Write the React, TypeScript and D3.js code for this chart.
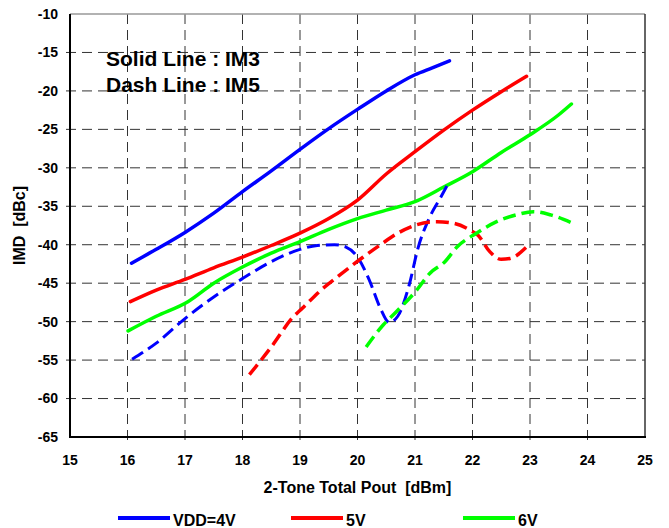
import React from "react";
import * as d3 from "d3";

const xTicks = [15, 16, 17, 18, 19, 20, 21, 22, 23, 24, 25];
const yTicks = [-10, -15, -20, -25, -30, -35, -40, -45, -50, -55, -60, -65];

type P = [number, number];

const im3_4V: P[] = [[16.07,-42.4],[16.5,-40.6],[17,-38.4],[17.5,-35.9],[18,-33.1],[18.5,-30.4],[19,-27.6],[19.5,-24.9],[20,-22.4],[20.5,-20.0],[21,-17.9],[21.3,-17.0],[21.6,-16.1]];
const im3_5V: P[] = [[16.05,-47.4],[16.5,-45.9],[17,-44.5],[17.5,-43.0],[18,-41.6],[18.5,-40.1],[19,-38.5],[19.5,-36.6],[20,-34.2],[20.5,-30.8],[21,-27.9],[21.5,-25.1],[22,-22.5],[22.5,-20.1],[22.94,-18.1]];
const im3_6V: P[] = [[16.01,-51.2],[16.5,-49.3],[17.05,-47.4],[17.5,-45.0],[18,-42.9],[18.5,-41.1],[19,-39.6],[19.5,-38.0],[20,-36.6],[20.5,-35.5],[21,-34.4],[21.5,-32.5],[22,-30.5],[22.5,-28.0],[23,-25.7],[23.5,-23.1],[23.72,-21.7]];
const im5_4V: P[] = [[16.08,-54.9],[16.5,-52.8],[17,-49.6],[17.5,-46.8],[18,-44.4],[18.5,-42.2],[19,-40.6],[19.3,-40.1],[19.6,-40.0],[19.8,-40.3],[20.0,-41.6],[20.2,-44.5],[20.4,-48.3],[20.55,-50.1],[20.7,-49.3],[20.9,-45.2],[21.05,-40.5],[21.25,-36.5],[21.45,-33.8],[21.58,-32.0]];
const im5_5V: P[] = [[18.12,-56.9],[18.5,-53.3],[18.88,-49.4],[19.05,-48.2],[19.35,-46.0],[19.7,-43.9],[20.1,-41.6],[20.4,-40.0],[20.7,-38.5],[21.03,-37.4],[21.38,-37.0],[21.67,-37.2],[21.96,-38.1],[22.1,-38.8],[22.3,-40.9],[22.5,-41.9],[22.65,-41.8],[22.94,-40.3]];
const im5_6V: P[] = [[20.15,-53.3],[20.45,-50.4],[20.65,-48.9],[21.03,-45.9],[21.26,-43.7],[21.52,-42.2],[21.73,-40.3],[22.07,-38.5],[22.42,-37.0],[22.77,-36.1],[23.06,-35.7],[23.35,-36.1],[23.71,-37.1]];

const legendLabels = ["VDD=4V", "5V", "6V"];
const colors = ["#0000ff", "#ff0000", "#00ff00"];

export default function App() {
  const W = 669, H = 528;
  const left = 70, right = 645, top = 14, bottom = 437;
  const x = d3.scaleLinear().domain([15, 25]).range([left, right]);
  const y = d3.scaleLinear().domain([-65, -10]).range([bottom, top]);
  const line = d3.line<P>().x(d => x(d[0])).y(d => y(d[1])).curve(d3.curveMonotoneX);
  const font = "Liberation Sans, Arial, sans-serif";

  const solids = [im3_4V, im3_5V, im3_6V];
  const dashes = [im5_4V, im5_5V, im5_6V];
  const legendX = [118, 291, 463];

  return (
    <svg width={W} height={H} style={{ position: "absolute", left: 0, top: 0, background: "#fff", whiteSpace: "pre" }} fontFamily={font}>
      {/* grid */}
      {xTicks.slice(1, -1).map(t => (
        <line key={"gx" + t} x1={x(t)} x2={x(t)} y1={top} y2={bottom + 4} stroke="#333" strokeWidth={1} strokeDasharray="10,6" />
      ))}
      {yTicks.slice(1, -1).map(t => (
        <line key={"gy" + t} x1={left - 4} x2={right} y1={y(t)} y2={y(t)} stroke="#333" strokeWidth={1} strokeDasharray="10,6" />
      ))}
      {/* frame */}
      <line x1={left} x2={right} y1={top} y2={top} stroke="#999" strokeWidth={1.5} />
      <line x1={right} x2={right} y1={top} y2={bottom} stroke="#333" strokeWidth={1.5} />
      <line x1={left} x2={left} y1={top} y2={bottom + 1} stroke="#000" strokeWidth={2} />
      <line x1={left - 1} x2={right + 1} y1={bottom} y2={bottom} stroke="#000" strokeWidth={2} />
      {/* tick labels */}
      {yTicks.map(t => (
        <text key={"yl" + t} x={58} y={y(t)} dy="0.35em" textAnchor="end" fontSize={14} fontWeight="bold">{t}</text>
      ))}
      {xTicks.map(t => (
        <text key={"xl" + t} x={x(t)} y={460} dy="0.35em" textAnchor="middle" fontSize={14} fontWeight="bold">{t}</text>
      ))}
      <text x={(left + right) / 2} y={493} textAnchor="middle" fontSize={16} fontWeight="bold" style={{ whiteSpace: "pre" }}>{"2-Tone Total Pout  [dBm]"}</text>
      <text transform={`translate(25,${(top + bottom) / 2}) rotate(-90)`} textAnchor="middle" fontSize={16} fontWeight="bold" style={{ whiteSpace: "pre" }}>{"IMD  [dBc]"}</text>
      {/* annotations */}
      <text x={106} y={66} fontSize={21} fontWeight="bold">Solid Line : IM3</text>
      <text x={106} y={92} fontSize={21} fontWeight="bold">Dash Line : IM5</text>
      {/* series */}
      {solids.map((s, i) => (
        <path key={"s" + i} d={line(s) || ""} fill="none" stroke={colors[i]} strokeWidth={3.5} strokeLinecap="round" />
      ))}
      {dashes.map((s, i) => (
        <path key={"d" + i} d={line(s) || ""} fill="none" stroke={colors[i]} strokeWidth={i === 0 ? 3 : 3.5} strokeDasharray="13,6" />
      ))}
      {/* legend */}
      {legendLabels.map((l, i) => (
        <g key={"lg" + i}>
          <line x1={legendX[i]} x2={legendX[i] + 52} y1={518} y2={518} stroke={colors[i]} strokeWidth={4} />
          <text x={legendX[i] + 55} y={526} fontSize={16} fontWeight="bold">{l}</text>
        </g>
      ))}
    </svg>
  );
}
